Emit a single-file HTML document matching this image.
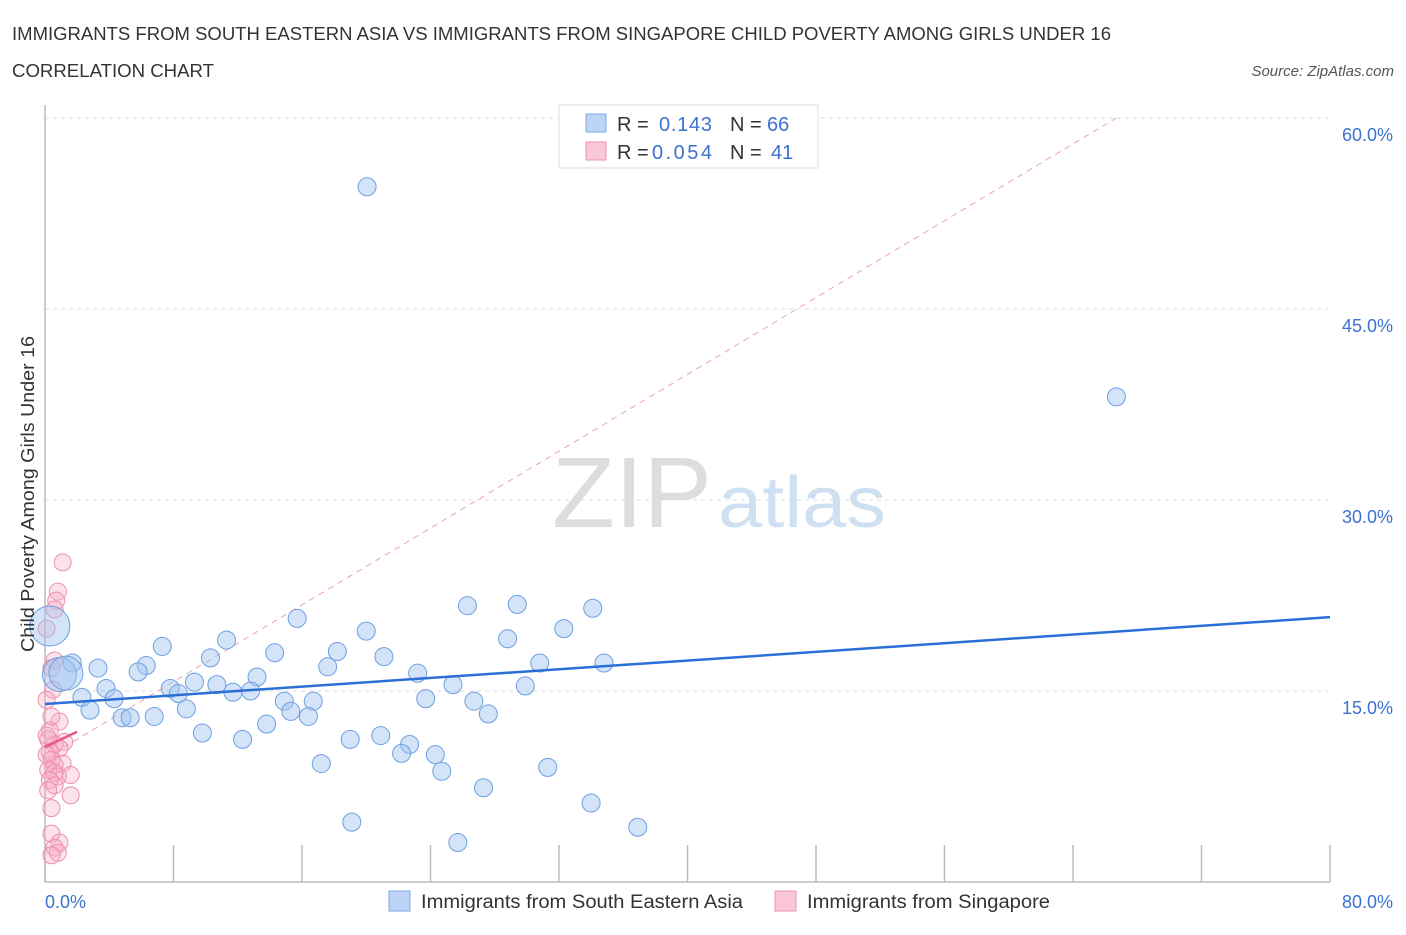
<!DOCTYPE html>
<html><head><meta charset="utf-8"><style>
body{margin:0;background:#fff;font-family:"Liberation Sans",sans-serif;}
svg text{font-family:"Liberation Sans",sans-serif;}
</style></head><body>
<svg id="chart" width="1406" height="930" xmlns="http://www.w3.org/2000/svg">
<text x="12" y="40" font-size="18" fill="#333" textLength="1099" lengthAdjust="spacingAndGlyphs">IMMIGRANTS FROM SOUTH EASTERN ASIA VS IMMIGRANTS FROM SINGAPORE CHILD POVERTY AMONG GIRLS UNDER 16</text>
<text x="12" y="77" font-size="18" fill="#333" textLength="202" lengthAdjust="spacingAndGlyphs">CORRELATION CHART</text>
<text x="1394" y="76" font-size="15" fill="#555" font-style="italic" text-anchor="end">Source: ZipAtlas.com</text>
<text x="552" y="527" font-size="100" fill="#ddd" font-family="Liberation Serif" textLength="160" lengthAdjust="spacingAndGlyphs">ZIP</text>
<text x="718" y="527" font-size="72" fill="#cfe0f3" textLength="168" lengthAdjust="spacingAndGlyphs">atlas</text>
<g id="grid"></g>
<g id="axes"></g>
<g id="marks"></g>
<text transform="translate(34,494) rotate(-90)" font-size="18" fill="#333" text-anchor="middle" textLength="316" lengthAdjust="spacingAndGlyphs">Child Poverty Among Girls Under 16</text>
<g>
<rect x="559" y="105" width="259" height="63" fill="#fff" stroke="#ddd"/>
<rect x="586" y="114" width="20" height="18" fill="#bcd4f6" stroke="#7faae6"/>
<rect x="586" y="142" width="20" height="18" fill="#f9c7d6" stroke="#ee93ae"/>
<text x="617" y="131" font-size="20" fill="#333">R =</text>
<text x="659" y="131" font-size="20" fill="#3b72d0" textLength="53">0.143</text>
<text x="730" y="131" font-size="20" fill="#333">N =</text>
<text x="767" y="131" font-size="20" fill="#3b72d0">66</text>
<text x="617" y="159" font-size="20" fill="#333">R =</text>
<text x="652" y="159" font-size="20" fill="#3b72d0" textLength="60">0.054</text>
<text x="730" y="159" font-size="20" fill="#333">N =</text>
<text x="771" y="159" font-size="20" fill="#3b72d0">41</text>
</g>
<g>
<rect x="389" y="891" width="21" height="20" fill="#bcd4f6" stroke="#7faae6"/>
<text x="421" y="908" font-size="19" fill="#333" textLength="322" lengthAdjust="spacingAndGlyphs">Immigrants from South Eastern Asia</text>
<rect x="775" y="891" width="21" height="20" fill="#f9c7d6" stroke="#ee93ae"/>
<text x="807" y="908" font-size="19" fill="#333" textLength="243" lengthAdjust="spacingAndGlyphs">Immigrants from Singapore</text>
</g>
</svg>
<script>
const blueX=[20.05,66.7,15.7,11.3,7.3,20.0,26.3,29.4,34.1,32.3,28.8,18.2,14.3,10.3,6.3,3.3,1.7,21.1,30.8,34.8,17.6,23.2,5.8,13.2,9.3,10.7,25.4,29.9,7.8,3.8,11.7,12.8,8.3,2.3,4.3,23.7,14.9,16.7,26.7,8.8,2.8,15.3,27.6,16.4,4.8,5.3,6.8,13.8,9.8,20.9,12.3,19.0,22.7,22.2,24.3,17.2,24.7,31.3,27.3,34.0,19.1,36.9,25.7,0.3,0.9,1.3];
const blueY=[54.6,38.1,20.7,19.0,18.5,19.7,21.7,21.8,21.5,19.9,19.1,18.1,18.0,17.6,17.0,16.8,17.2,17.7,17.2,17.2,16.9,16.4,16.5,16.1,15.7,15.5,15.5,15.4,15.2,15.2,14.9,15.0,14.8,14.5,14.4,14.4,14.2,14.2,14.2,13.6,13.5,13.4,13.2,13.0,12.9,12.9,13.0,12.4,11.7,11.5,11.2,11.2,10.8,10.1,10.0,9.3,8.7,9.0,7.4,6.2,4.7,4.3,3.1,20.1,16.3,16.4];
const pinkX=[1.1,0.8,0.7,0.6,0.1,0.6,0.4,0.5,0.9,0.3,0.2,1.2,0.6,0.9,0.3,0.4,1.1,0.6,0.2,0.6,0.8,1.6,0.3,0.6,0.2,1.6,0.4,0.4,0.9,0.6,0.8,0.4,0.1,0.1,0.1,0.4];
const pinkY=[25.1,22.8,22.1,21.4,19.9,17.4,16.8,15.1,12.6,11.9,11.2,11.0,10.8,10.5,10.2,9.6,9.3,9.2,8.8,8.6,8.3,8.4,8.0,7.6,7.2,6.8,5.8,3.8,3.1,2.7,2.3,2.1,11.5,10.0,14.3,13.0];
const blueTrend=[13.98,20.8];
const pinkTrend=[10.6,11.8];
const pinkTrendX=[0,2];
const dashX=[0,66.7];
const dashY=[9.7,60];
const yTicks=[15,30,45,60];
const yTickLabels=["15.0%","30.0%","45.0%","60.0%"];
const xTicks=[0,8,16,24,32,40,48,56,64,72,80];
const NS="http://www.w3.org/2000/svg";
const sx=v=>45+v/80*1285;
const sy=v=>882-v/60*764;
function mk(tag,attrs,parent){const e=document.createElementNS(NS,tag);for(const k in attrs)e.setAttribute(k,attrs[k]);document.getElementById(parent).appendChild(e);return e;}
yTicks.forEach((t,i)=>{
 const l=mk('line',{x1:45,x2:1330,y1:sy(t),y2:sy(t),stroke:'#ddd','stroke-dasharray':'4,4'},'grid');
 
 
 const tx=mk('text',{x:1393,y:sy(t)+23,'font-size':18,fill:'#3b72d0','text-anchor':'end'},'axes');
 tx.textContent=yTickLabels[i];
 
 
});
const ax=mk('line',{x1:45,x2:1330,y1:882,y2:882,stroke:'#bbb','stroke-width':1.5},'axes');


const ay=mk('line',{x1:45,x2:45,y1:105,y2:882,stroke:'#bbb','stroke-width':1.5},'axes');


xTicks.forEach(t=>{
 const l=mk('line',{x1:sx(t),x2:sx(t),y1:845,y2:882,stroke:'#bbb','stroke-width':1.5},'axes');
 
 
});
[[0,"0.0%",'start',45],[80,"80.0%",'end',1393]].forEach(a=>{
 const tx=mk('text',{x:a[3],y:908,'font-size':18,fill:'#3b72d0','text-anchor':a[2]},'axes');
 tx.textContent=a[1];
 
 
});
const dl=mk('line',{x1:sx(dashX[0]),y1:sy(dashY[0]),x2:sx(dashX[1]),y2:sy(dashY[1]),stroke:'#eaa3b8','stroke-dasharray':'6,5'},'marks');


pinkX.forEach((x,i)=>{
 const c=mk('circle',{cx:sx(x),cy:sy(pinkY[i]),r:8.5,fill:'rgba(247,172,196,0.35)',stroke:'#ee8fad','stroke-width':1},'marks');
 
 
});
blueX.forEach((x,i)=>{
 const big=i>=63;
 const c=mk('circle',{cx:sx(x),cy:sy(blueY[i]),r:big?(i==63?20:17):9,fill:'rgba(160,195,240,0.45)',stroke:'#6d9fe2','stroke-width':1},'marks');
 
 
});
const bt=mk('line',{x1:sx(0),y1:sy(blueTrend[0]),x2:sx(80),y2:sy(blueTrend[1]),stroke:'#2a6fd6','stroke-width':2.5},'marks');


const pt=mk('line',{x1:sx(pinkTrendX[0]),y1:sy(pinkTrend[0]),x2:sx(pinkTrendX[1]),y2:sy(pinkTrend[1]),stroke:'#e8588a','stroke-width':2.5},'marks');


</script>
</body></html>
